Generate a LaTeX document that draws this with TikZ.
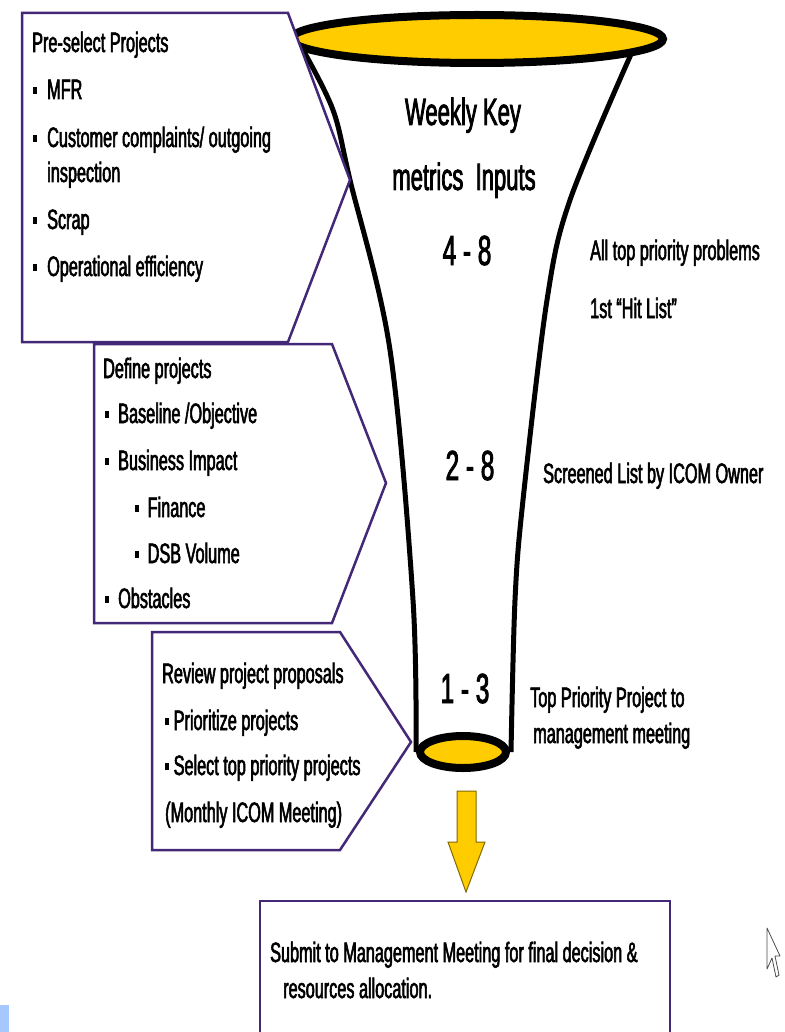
\documentclass[tikz,border=0pt]{standalone}
\usepackage{fontspec}
\newfontfamily\nf[FakeStretch=0.58,FakeBold=2]{Liberation Sans}
\definecolor{frame}{RGB}{68,40,120}
\definecolor{gold}{RGB}{255,204,0}
\definecolor{goldedge}{RGB}{130,105,0}
\definecolor{tabblue}{RGB}{166,200,255}
% small square bullet followed by a gap
\newcommand\bul[1][10.5pt]{\rule[5pt]{3.5pt}{7pt}\hspace{#1}}
\begin{document}
\begin{tikzpicture}[x=1pt,y=-1pt,
  lbl/.style={anchor=base west, inner sep=0pt, font=\nf\fontsize{28}{32}\selectfont},
  big/.style={anchor=base, inner sep=0pt, font=\nf\fontsize{38}{44}\selectfont},
  num/.style={anchor=base, inner sep=0pt, font=\nf\fontsize{42}{48}\selectfont},
  panel/.style={draw=frame, line width=2.5pt, fill=white, line join=miter},
  rim/.style={draw=black, line width=8pt, fill=gold},
  side/.style={draw=black, line width=5pt},
  ]
\useasboundingbox (0,0) rectangle (784,1032);

% funnel walls
\draw[side] plot[smooth, tension=0.55] coordinates
  {(303,50) (333,110) (350,180) (390,350) (413,600) (416,752)};
\draw[side] plot[smooth, tension=0.55] coordinates
  {(632,52) (570,200) (547,300) (523,500) (515,600) (511,752)};
% funnel rims
\draw[rim] (477,39) ellipse [x radius=186, y radius=24];
\draw[rim] (463,752) ellipse [x radius=43, y radius=16];

% step panels
\draw[panel] (22,13) -- (288,13) -- (350,180) -- (288,342) -- (22,342) -- cycle;
\draw[panel] (94,344) -- (332,344) -- (386,483) -- (332,623) -- (94,623) -- cycle;
\draw[panel] (152,632) -- (340,632) -- (411,742) -- (340,850) -- (152,850) -- cycle;
\begin{scope}
  \clip (0,0) rectangle (784,1032);
  \draw[panel] (260,901) -- (670,901) -- (670,1045) -- (260,1045) -- cycle;
\end{scope}

% panel 1
\node[lbl] (p1h) at (32,52) {Pre-select Projects};
\node[lbl] (p1a) at (33,99) {\bul MFR};
\node[lbl] (p1b) at (33,147) {\bul Customer complaints/ outgoing};
\node[lbl] (p1c) at (47,182) {inspection};
\node[lbl] (p1d) at (33,229) {\bul Scrap};
\node[lbl] (p1e) at (33,276) {\bul Operational efficiency};

% panel 2
\node[lbl] (p2h) at (103,378) {Define projects};
\node[lbl] (p2a) at (105,423) {\bul[9.5pt]Baseline /Objective};
\node[lbl] (p2b) at (105,470) {\bul[9.5pt]Business Impact};
\node[lbl] (p2c) at (135,517) {\bul[9pt]Finance};
\node[lbl] (p2d) at (135,563) {\bul[9pt]DSB Volume};
\node[lbl] (p2e) at (105,608) {\bul[9.5pt]Obstacles};

% panel 3
\node[lbl] (p3h) at (162,683) {Review project proposals};
\node[lbl] (p3a) at (165,730) {\bul[5pt]Prioritize projects};
\node[lbl] (p3b) at (165,775) {\bul[5pt]Select top priority projects};
\node[lbl] (p3c) at (165,822) {(Monthly ICOM Meeting)};

% funnel labels
\node[big] (t1) at (463,125) {Weekly Key};
\node[big] (t2) at (464,190) {metrics\ \ Inputs};
\node[num] (n1) at (467,265) {4 - 8};
\node[num] (n2) at (470,480) {2 - 8};
\node[num] (n3) at (465,703) {1 - 3};

% side notes
\node[lbl] (s1) at (590,260) {All top priority problems};
\node[lbl] (s2) at (590,318) {1st “Hit List”};
\node[lbl] (s3) at (543,483) {Screened List by ICOM Owner};
\node[lbl] (s4) at (530,707) {Top Priority Project to};
\node[lbl] (s5) at (533,743) {management meeting};

% final step
\node[lbl] (f1) at (270,962) {Submit to Management Meeting for final decision \&};
\node[lbl] (f2) at (283,998) {resources allocation.};

% downward arrow from the funnel outlet to the final step
\draw[fill=gold, draw=goldedge, line width=1pt, line join=miter]
  (457,791) -- (476,791) -- (476,842) -- (485,842) -- (466,892)
  -- (448,842) -- (457,842) -- cycle;

% pointer and tab at the edges
\draw[fill=white, draw=black!70, line width=0.8pt, line join=round]
  (767,928) -- (767,969) -- (772,958) -- (776,977) -- (779,975)
  -- (775,956) -- (780,956) -- cycle;
\fill[tabblue] (0,1005) rectangle (9,1032);
\end{tikzpicture}
\end{document}
